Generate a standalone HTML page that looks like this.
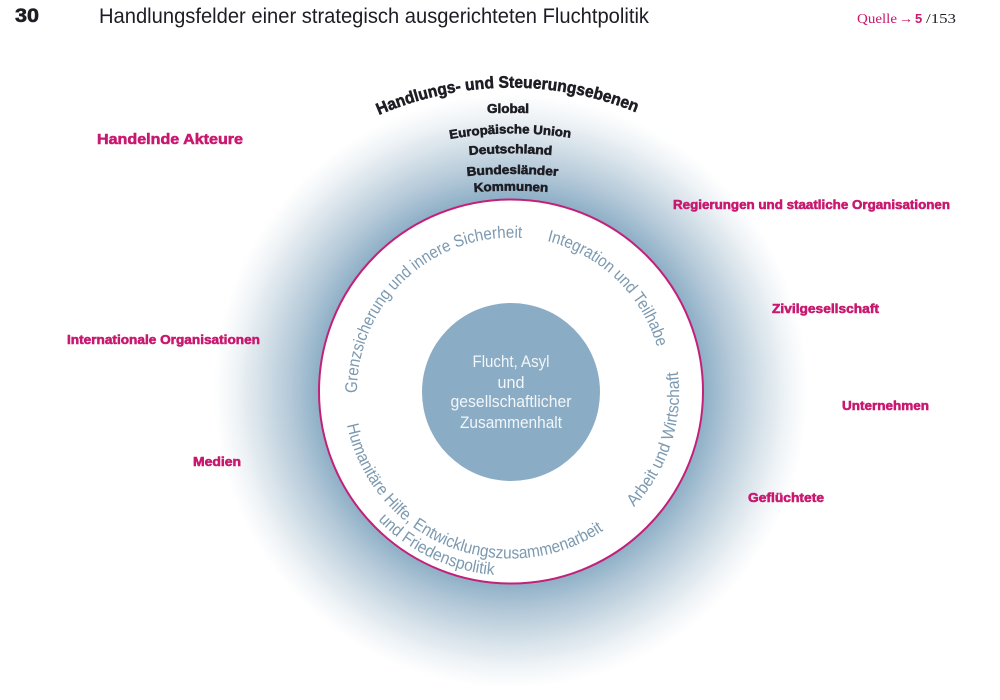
<!DOCTYPE html>
<html lang="de">
<head>
<meta charset="utf-8">
<title>Handlungsfelder einer strategisch ausgerichteten Fluchtpolitik</title>
<style>
html,body{margin:0;padding:0;background:#fff;width:1000px;height:700px;overflow:hidden}
svg{display:block}
text{font-family:"Liberation Sans",sans-serif}
.m{fill:#c8186f;font-weight:700;stroke:#c8186f;stroke-width:.55}
.k{fill:#1d1d24;font-weight:700;stroke:#1d1d24;stroke-width:.55}
.r{fill:#7b99b0;font-size:17px}
.c{fill:#f2f6f9;font-size:17px;text-anchor:middle}
</style>
</head>
<body>
<svg width="1000" height="700" viewBox="0 0 1000 700" xmlns="http://www.w3.org/2000/svg">
<defs>
<radialGradient id="g" gradientUnits="userSpaceOnUse" cx="511" cy="391" r="297">
<stop offset="0" stop-color="#8fb0c7"/>
<stop offset=".65" stop-color="#8fb0c7"/>
<stop offset=".74" stop-color="#b3c8d8"/>
<stop offset=".84" stop-color="#d4e0e8"/>
<stop offset=".93" stop-color="#f0f4f7"/>
<stop offset="1" stop-color="#ffffff"/>
</radialGradient>
<path id="head" d="M379 115 A330 330 0 0 1 640 114"/>
<path id="l2" d="M450 139 A360 360 0 0 1 571 138"/>
<path id="l3" d="M469 155 A500 500 0 0 1 552 155"/>
<path id="l4" d="M467 176 A500 500 0 0 1 558 176"/>
<path id="l5" d="M474 192 A500 500 0 0 1 548 192"/>
<path id="p1" d="M357 393 A154 154 0 0 1 521 238"/>
<path id="p2" d="M547 241 A154 154 0 0 1 658 350"/>
<path id="p3" d="M634 507 A168 168 0 0 0 678 373"/>
<path id="p4" d="M347 425 A167 167 0 0 0 604 530"/>
<path id="p5" d="M378 520 A184 184 0 0 0 495 575"/>
</defs>

<rect width="1000" height="700" fill="#fff"/>
<circle cx="511" cy="391" r="297" fill="url(#g)"/>
<circle cx="511" cy="391.5" r="192" fill="#fff" stroke="#c2217a" stroke-width="2"/>
<circle cx="511" cy="392" r="89" fill="#8aacc5"/>

<!-- header -->
<text x="15" y="22" font-size="19" class="k" textLength="24" lengthAdjust="spacingAndGlyphs">30</text>
<text x="99" y="23" font-size="21" fill="#1d1d24" textLength="550" lengthAdjust="spacingAndGlyphs">Handlungsfelder einer strategisch ausgerichteten Fluchtpolitik</text>
<text x="857" y="23" font-size="14" style="font-family:'Liberation Serif',serif" fill="#c8186f" textLength="40" lengthAdjust="spacingAndGlyphs">Quelle</text>
<text x="899" y="23" font-size="14" fill="#c8186f">→</text>
<text x="915" y="23" font-size="13" font-weight="700" fill="#c8186f">5</text>
<text x="926" y="23" font-size="14" style="font-family:'Liberation Serif',serif" fill="#1d1d24" textLength="30" lengthAdjust="spacingAndGlyphs">/153</text>

<!-- levels -->
<text class="k" font-size="16.5"><textPath href="#head" textLength="264" lengthAdjust="spacingAndGlyphs">Handlungs- und Steuerungsebenen</textPath></text>
<text class="k" x="487" y="113" font-size="12.5" textLength="42" lengthAdjust="spacingAndGlyphs">Global</text>
<text class="k" font-size="12.5"><textPath href="#l2" textLength="121" lengthAdjust="spacingAndGlyphs">Europäische Union</textPath></text>
<text class="k" font-size="12.5"><textPath href="#l3" textLength="83" lengthAdjust="spacingAndGlyphs">Deutschland</textPath></text>
<text class="k" font-size="12.5"><textPath href="#l4" textLength="91" lengthAdjust="spacingAndGlyphs">Bundesländer</textPath></text>
<text class="k" font-size="12.5"><textPath href="#l5" textLength="74" lengthAdjust="spacingAndGlyphs">Kommunen</textPath></text>

<!-- actors -->
<text class="m" x="97" y="144" font-size="15" textLength="146" lengthAdjust="spacingAndGlyphs">Handelnde Akteure</text>
<text class="m" x="673" y="209" font-size="12.5" textLength="277" lengthAdjust="spacingAndGlyphs">Regierungen und staatliche Organisationen</text>
<text class="m" x="772" y="313" font-size="12.5" textLength="107" lengthAdjust="spacingAndGlyphs">Zivilgesellschaft</text>
<text class="m" x="842" y="410" font-size="12.5" textLength="87" lengthAdjust="spacingAndGlyphs">Unternehmen</text>
<text class="m" x="748" y="502" font-size="12.5" textLength="76" lengthAdjust="spacingAndGlyphs">Geflüchtete</text>
<text class="m" x="67" y="344" font-size="12.5" textLength="193" lengthAdjust="spacingAndGlyphs">Internationale Organisationen</text>
<text class="m" x="193" y="466" font-size="12.5" textLength="48" lengthAdjust="spacingAndGlyphs">Medien</text>

<!-- ring -->
<text class="r"><textPath href="#p1" textLength="254" lengthAdjust="spacingAndGlyphs">Grenzsicherung und innere Sicherheit</textPath></text>
<text class="r"><textPath href="#p2" textLength="160" lengthAdjust="spacingAndGlyphs">Integration und Teilhabe</textPath></text>
<text class="r"><textPath href="#p3" textLength="147" lengthAdjust="spacingAndGlyphs">Arbeit und Wirtschaft</textPath></text>
<text class="r"><textPath href="#p4" textLength="327" lengthAdjust="spacingAndGlyphs">Humanitäre Hilfe, Entwicklungszusammenarbeit</textPath></text>
<text class="r"><textPath href="#p5" textLength="131" lengthAdjust="spacingAndGlyphs">und Friedenspolitik</textPath></text>

<!-- center -->
<text class="c" x="511" y="367" textLength="77" lengthAdjust="spacingAndGlyphs">Flucht, Asyl</text>
<text class="c" x="511" y="388" textLength="27" lengthAdjust="spacingAndGlyphs">und</text>
<text class="c" x="511" y="407" textLength="121" lengthAdjust="spacingAndGlyphs">gesellschaftlicher</text>
<text class="c" x="511" y="428" textLength="102" lengthAdjust="spacingAndGlyphs">Zusammenhalt</text>
</svg>
</body>
</html>
